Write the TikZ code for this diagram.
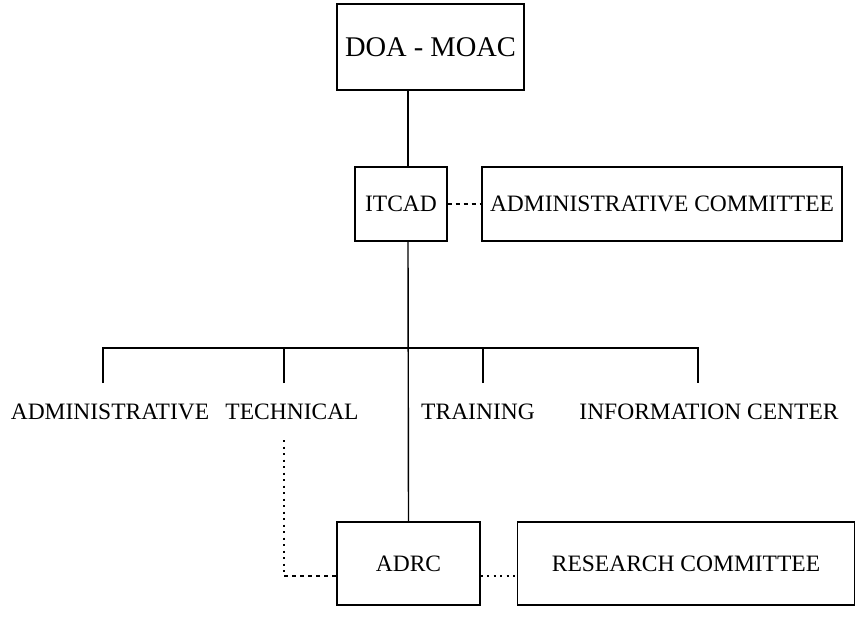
\documentclass[tikz,border=0pt]{standalone}
\usepackage{fontspec}
\setmainfont{Liberation Serif}
\usetikzlibrary{positioning}
\tikzset{
  unitbox/.style={draw, line width=1.3pt, inner sep=0pt, font=\fontsize{23.5}{26}\selectfont},
  unitlabel/.style={inner sep=0pt, font=\fontsize{23.5}{26}\selectfont},
  tie/.style={line width=1.4pt},
  dashlink/.style={line width=1.5pt, dash pattern=on 4pt off 4pt},
  dotlink/.style={line width=2pt, dash pattern=on 2pt off 4.5pt},
}

\begin{document}
\begin{tikzpicture}[x=1pt,y=-1pt]
    \useasboundingbox (0,0) rectangle (855,618);
    % boxes
    \node[unitbox, minimum width=187pt, minimum height=86pt, font=\fontsize{28.5}{32}\selectfont] (doa) at (430.5,47) {DOA - MOAC};
    \node[unitbox, minimum width=92pt, minimum height=74pt] (itcad) at (401,204) {ITCAD};
    \node[unitbox, minimum width=360pt, minimum height=74pt] (admcom) at (662,204) {ADMINISTRATIVE COMMITTEE};
    \node[unitbox, minimum width=143pt, minimum height=83pt] (adrc) at (408.5,563.5) {ADRC};
    \node[unitbox, minimum width=337pt, minimum height=83pt] (rescom) at (686,563.5) {RESEARCH COMMITTEE};
    % sections
    \node[unitlabel] (admin) at (110,412) {ADMINISTRATIVE};
    \node[unitlabel] (tech) at (292,412) {TECHNICAL};
    \node[unitlabel] (train) at (478,412) {TRAINING};
    \node[unitlabel] (info) at (709,412) {INFORMATION CENTER};
    % helper coordinates
    \coordinate (spine) at (408,0);
    \coordinate (bus) at (0,348);
    \coordinate (link) at (0,576);
    \foreach \x/\n in {103/a,284/b,483/c,698/d}
        \coordinate (drop\n) at (\x,383);
    % solid lines
    \draw[tie] (doa.south -| spine) -- (itcad.north -| spine);
    \draw[tie] (itcad.south -| spine) -- (adrc.north);
    \draw[tie] (dropa) -- (dropa |- bus) -- (dropd |- bus) -- (dropd);
    \draw[tie] (dropb) -- (dropb |- bus);
    \draw[tie] (dropc) -- (dropc |- bus);
    % dotted links
    \draw[dashlink] (itcad.east) -- (admcom.west);
    \draw[dotlink] (adrc.east |- link) -- (rescom.west |- link);
    \draw[dotlink] (tech.south -| dropb) ++(0,20) -- (dropb |- link);
    \draw[dashlink] (dropb |- link) -- (adrc.west |- link);
\end{tikzpicture}
\end{document}
